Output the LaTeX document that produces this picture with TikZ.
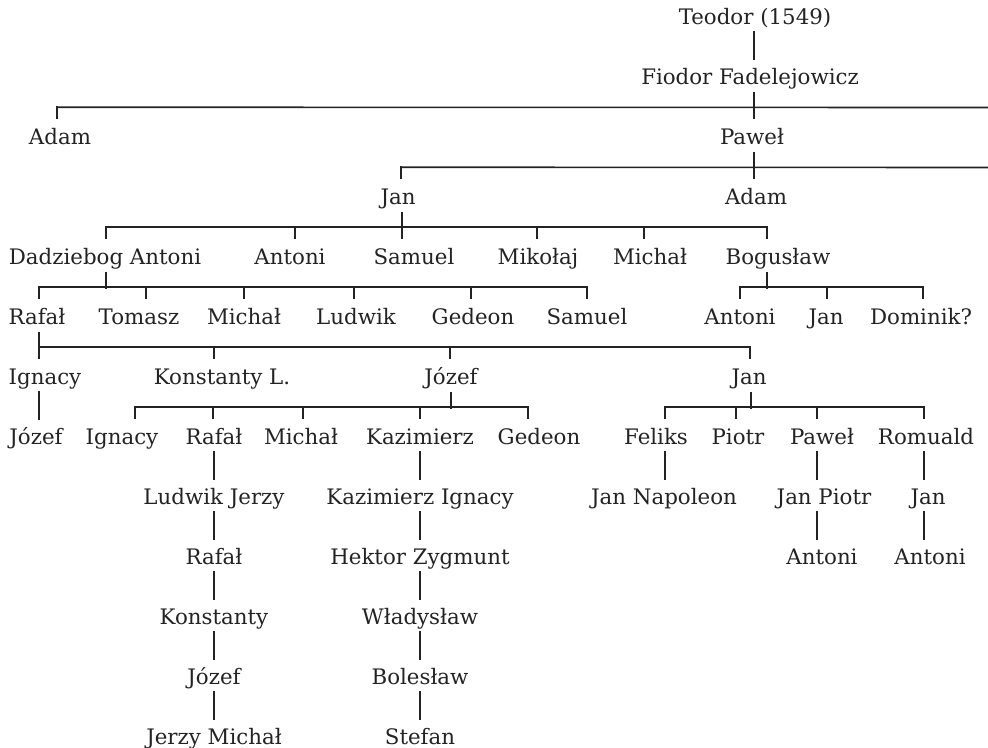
\documentclass[tikz,border=0pt]{standalone}
\usepackage{fontspec}
\setmainfont{DejaVu Serif}
\usepackage{tikz}
\usetikzlibrary{calc}
\definecolor{ink}{RGB}{35,35,35}

\begin{document}
\begin{tikzpicture}[x=0.75pt,y=-0.75pt,
    person/.style={anchor=base,inner sep=0pt,text height=12.75pt,text depth=3.75pt,
      font=\fontsize{16}{19}\selectfont,text=ink},
    link/.style={draw=ink,line width=1.2pt,line cap=rect}]
  \useasboundingbox (0,0) rectangle (988,748);

  % Pokolenia I-IV
  \node[person] (teodor) at (755,24.5) {Teodor (1549)};
  \node[person] (fiodor) at (750,84.5) {Fiodor Fadelejowicz};
  \node[person] (adamA) at (60,144.5) {Adam};
  \node[person] (pawel) at (752,144.5) {Paweł};
  \node[person] (jan) at (398,204.5) {Jan};
  \node[person] (adamB) at (756,204.5) {Adam};

  % Synowie Jana
  \node[person] (dadziebog) at (105,264.5) {Dadziebog Antoni};
  \node[person] (antoniA) at (290,264.5) {Antoni};
  \node[person] (samuelA) at (414,264.5) {Samuel};
  \node[person] (mikolaj) at (538,264.5) {Mikołaj};
  \node[person] (michalA) at (650,264.5) {Michał};
  \node[person] (boguslaw) at (778,264.5) {Bogusław};

  % Synowie Dadzieboga i Bogusława
  \node[person] (rafalA) at (37,324.5) {Rafał};
  \node[person] (tomasz) at (139,324.5) {Tomasz};
  \node[person] (michalB) at (244,324.5) {Michał};
  \node[person] (ludwik) at (356,324.5) {Ludwik};
  \node[person] (gedeonA) at (473,324.5) {Gedeon};
  \node[person] (samuelB) at (587,324.5) {Samuel};
  \node[person] (antoniB) at (740,324.5) {Antoni};
  \node[person] (janB) at (826,324.5) {Jan};
  \node[person] (dominik) at (921,324.5) {Dominik?};

  % Synowie Rafała
  \node[person] (ignacyA) at (45,384.5) {Ignacy};
  \node[person] (konstantyL) at (222,384.5) {Konstanty L.};
  \node[person] (jozefA) at (451,384.5) {Józef};
  \node[person] (janC) at (749,384.5) {Jan};

  % Wnukowie Rafała
  \node[person] (jozefB) at (36,444.5) {Józef};
  \node[person] (ignacyB) at (122,444.5) {Ignacy};
  \node[person] (rafalB) at (214,444.5) {Rafał};
  \node[person] (michalC) at (301,444.5) {Michał};
  \node[person] (kazimierz) at (420,444.5) {Kazimierz};
  \node[person] (gedeonB) at (539,444.5) {Gedeon};
  \node[person] (feliks) at (656,444.5) {Feliks};
  \node[person] (piotr) at (738,444.5) {Piotr};
  \node[person] (pawelB) at (822,444.5) {Paweł};
  \node[person] (romuald) at (926,444.5) {Romuald};

  % Dalsze linie
  \node[person] (ludwikJ) at (214,504.5) {Ludwik Jerzy};
  \node[person] (kazimierzI) at (420,504.5) {Kazimierz Ignacy};
  \node[person] (janNap) at (664,504.5) {Jan Napoleon};
  \node[person] (janPiotr) at (824,504.5) {Jan Piotr};
  \node[person] (janD) at (928,504.5) {Jan};
  \node[person] (rafalC) at (214,564.5) {Rafał};
  \node[person] (hektor) at (420,564.5) {Hektor Zygmunt};
  \node[person] (antoniC) at (822,564.5) {Antoni};
  \node[person] (antoniD) at (930,564.5) {Antoni};
  \node[person] (konstanty) at (214,624.5) {Konstanty};
  \node[person] (wladyslaw) at (420,624.5) {Władysław};
  \node[person] (jozefC) at (214,684.5) {Józef};
  \node[person] (boleslaw) at (420,684.5) {Bolesław};
  \node[person] (jerzyM) at (214,744.5) {Jerzy Michał};
  \node[person] (stefan) at (420,744.5) {Stefan};

  % Belki rodzeństwa
  \coordinate (prawyA) at (990,107.5);
  \coordinate (prawyB) at (990,167.5);
  \draw[link] ($(adamA.north)+(-3,-20)$) -- (prawyA);
  \draw[link] ($(jan.north)+(3,-20)$) -- (prawyB);
  \draw[link] ($(dadziebog.north)+(1,-20)$) -- ($(boguslaw.north)+(-11,-20)$);
  \draw[link] ($(rafalA.north)+(2,-20)$) -- ($(samuelB.north)+(0,-20)$);
  \draw[link] ($(antoniB.north)+(0,-20)$) -- ($(dominik.north)+(2,-20)$);
  \draw[link] ($(ignacyA.north)+(-6,-20)$) -- ($(janC.north)+(1,-20)$);
  \draw[link] ($(ignacyB.north)+(13,-20)$) -- ($(gedeonB.north)+(-11,-20)$);
  \draw[link] ($(feliks.north)+(9,-20)$) -- ($(romuald.north)+(-2,-20)$);

  % Od rodzica do belki
  \foreach \p/\dx in {fiodor/4, pawel/2, jan/4, dadziebog/1, boguslaw/-11,
                      rafalA/2, jozefA/0, janC/2}
    \draw[link] ($(\p.south)+(\dx,3)$) -- ++(0,15);

  % Od belki do dziecka
  \foreach \c/\dx in {adamA/-3, pawel/2, jan/3, adamB/-2,
                      dadziebog/1, antoniA/5, samuelA/-12, mikolaj/-1, michalA/-6, boguslaw/-11,
                      rafalA/2, tomasz/7, michalB/0, ludwik/-2, gedeonA/-2, samuelB/0,
                      antoniB/0, janB/1, dominik/2,
                      ignacyA/-6, konstantyL/-8, jozefA/-1, janC/1,
                      ignacyB/13, rafalB/-1, michalC/2, kazimierz/0, gedeonB/-11,
                      feliks/9, piotr/-2, pawelB/-5, romuald/-2}
    \draw[link] ($(\c.north)+(\dx,-9)$) -- ++(0,-11);

  % Linie pojedyncze
  \foreach \c/\dx in {fiodor/4, jozefB/3,
                      ludwikJ/0, rafalC/0, konstanty/0, jozefC/0, jerzyM/0,
                      kazimierzI/0, hektor/0, wladyslaw/0, boleslaw/0, stefan/0,
                      janNap/1, janPiotr/-7, antoniC/-5, janD/-4, antoniD/-6}
    \draw[link] ($(\c.north)+(\dx,-8)$) -- ++(0,-27);
\end{tikzpicture}
\end{document}
